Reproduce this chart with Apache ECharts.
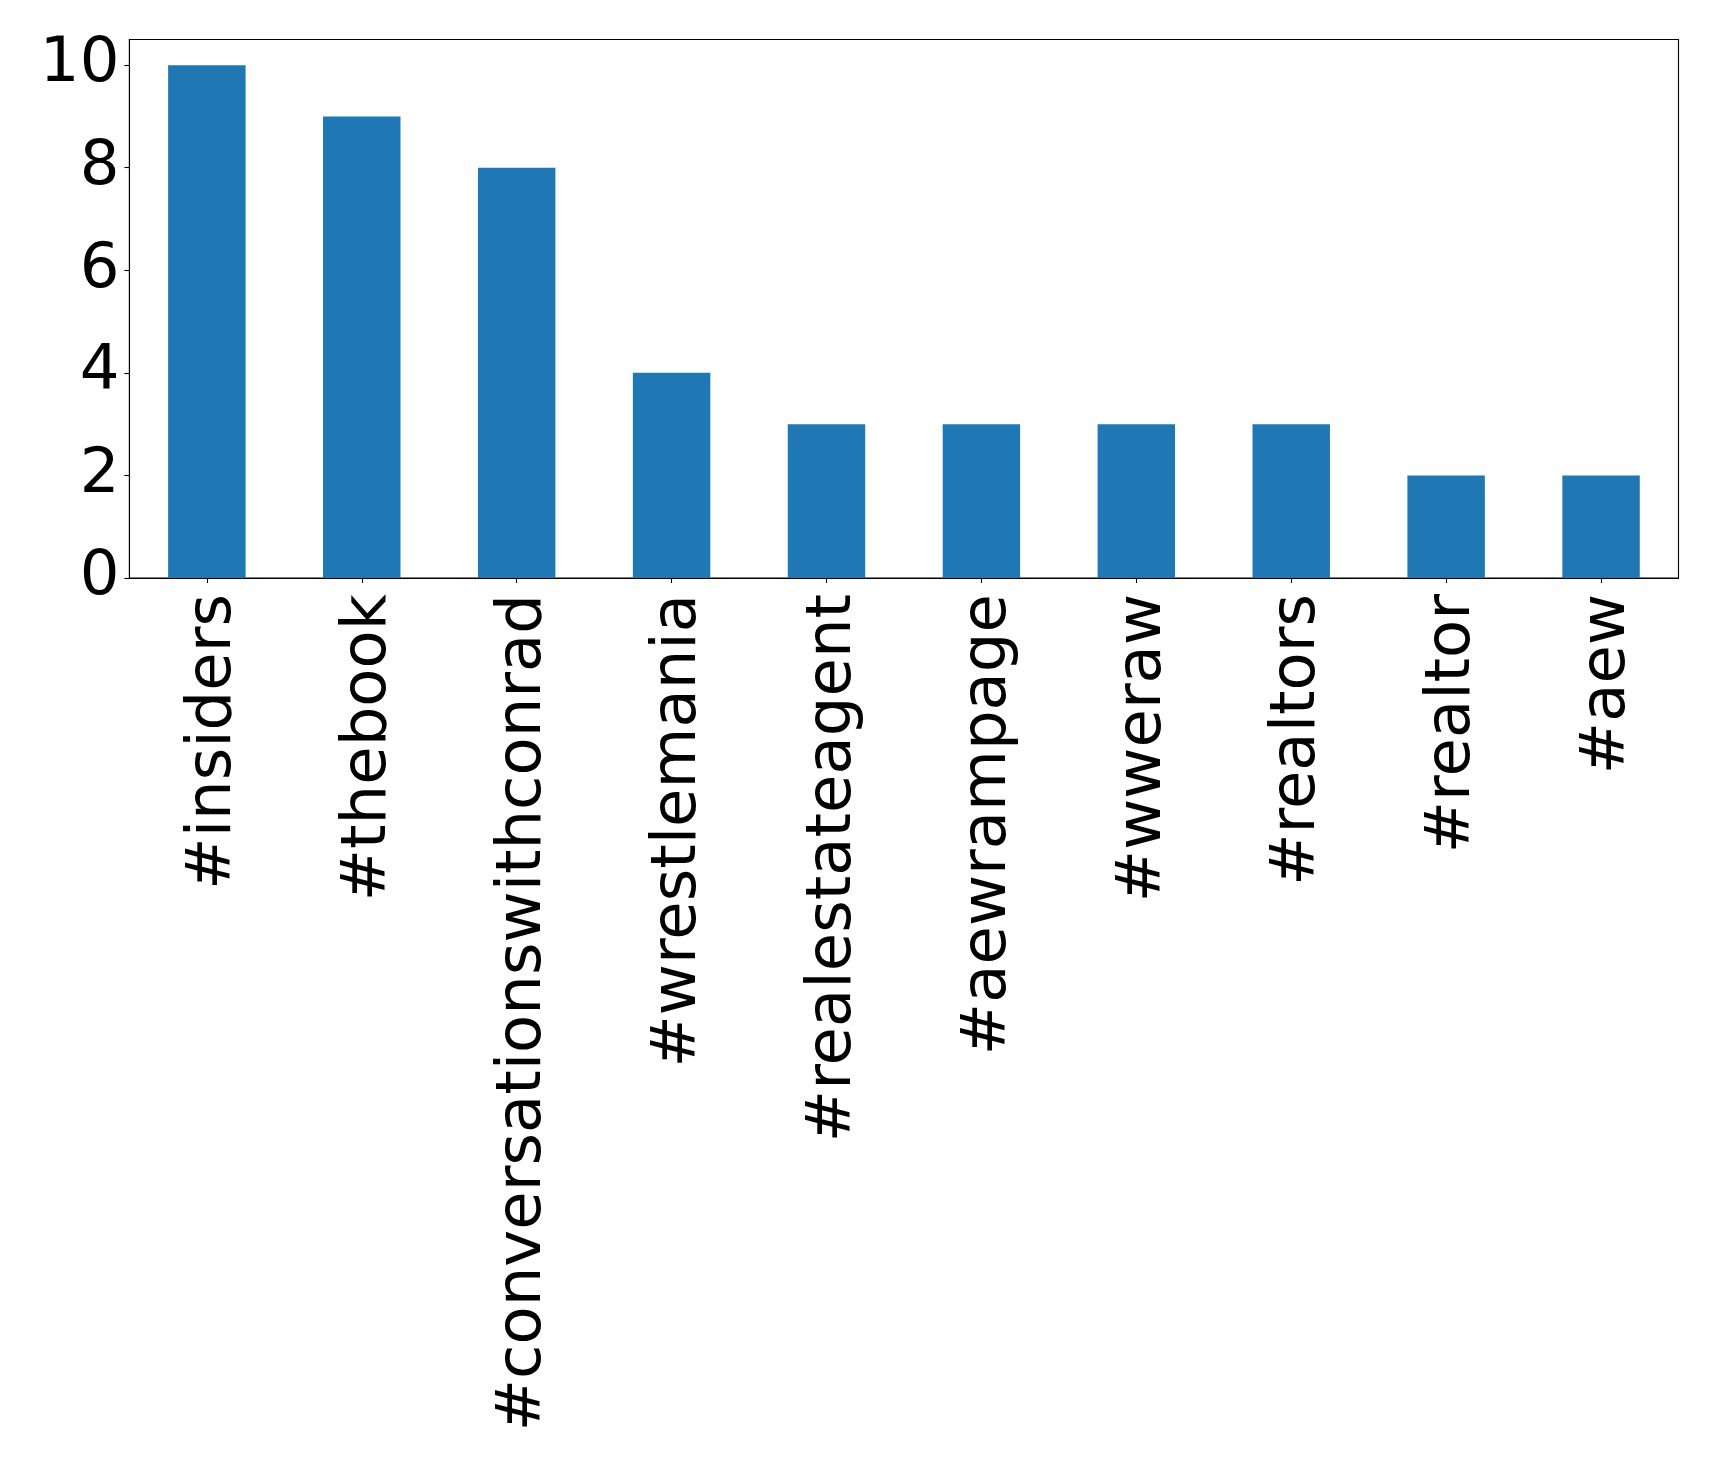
<!DOCTYPE html>
<html>
<head>
<meta charset="utf-8">
<script src="https://cdn.jsdelivr.net/npm/echarts@6/dist/echarts.min.js"></script>
<style>
html,body{margin:0;padding:0;background:#fff;}
#chart{width:1719px;height:1465px;}
</style>
</head>
<body>
<div id="chart"></div>
<script>
const categories = ['#insiders','#thebook','#conversationswithconrad','#wrestlemania','#realestateagent','#aewrampage','#wweraw','#realtors','#realtor','#aew'];
const values = [10, 9, 8, 4, 3, 3, 3, 3, 2, 2];
const yTicks = [0, 2, 4, 6, 8, 10];

const chart = echarts.init(document.getElementById('chart'));
const font = 'DejaVu Sans';
chart.setOption({
  animation: false,
  backgroundColor: '#fff',
  grid: {
    left: 129.4, top: 39.5, right: 40.5, bottom: 887,
    show: true, borderColor: '#000', borderWidth: 1.1, backgroundColor: 'transparent'
  },
  xAxis: {
    type: 'category',
    data: categories,
    boundaryGap: true,
    axisLine: { show: true, lineStyle: { color: '#000', width: 1.1 } },
    axisTick: { show: true, alignWithLabel: true, length: 5, lineStyle: { color: '#000', width: 1.1 } },
    axisLabel: {
      rotate: 90, margin: 16, color: '#000', fontSize: 62.5, fontFamily: font, interval: 0,
      formatter: function (v) { return '{t|' + v + '}'; },
      rich: { t: { color: '#000', fontSize: 62.5, fontFamily: font, padding: [14, 0, 0, 0] } }
    },
    splitLine: { show: false }
  },
  yAxis: {
    type: 'value',
    min: 0, max: 10.5, interval: 2,
    axisLine: { show: true, lineStyle: { color: '#000', width: 1.1 } },
    axisTick: { show: true, length: 5, lineStyle: { color: '#000', width: 1.1 } },
    axisLabel: {
      margin: 10, color: '#000', fontSize: 62.5, fontFamily: font,
      showMaxLabel: false,
      formatter: function (v) { return yTicks.indexOf(v) >= 0 ? String(v) : ''; }
    },
    splitLine: { show: false }
  },
  series: [{
    type: 'bar',
    data: values,
    barWidth: '50%',
    itemStyle: { color: '#1f77b4' }
  }]
});
</script>
</body>
</html>
